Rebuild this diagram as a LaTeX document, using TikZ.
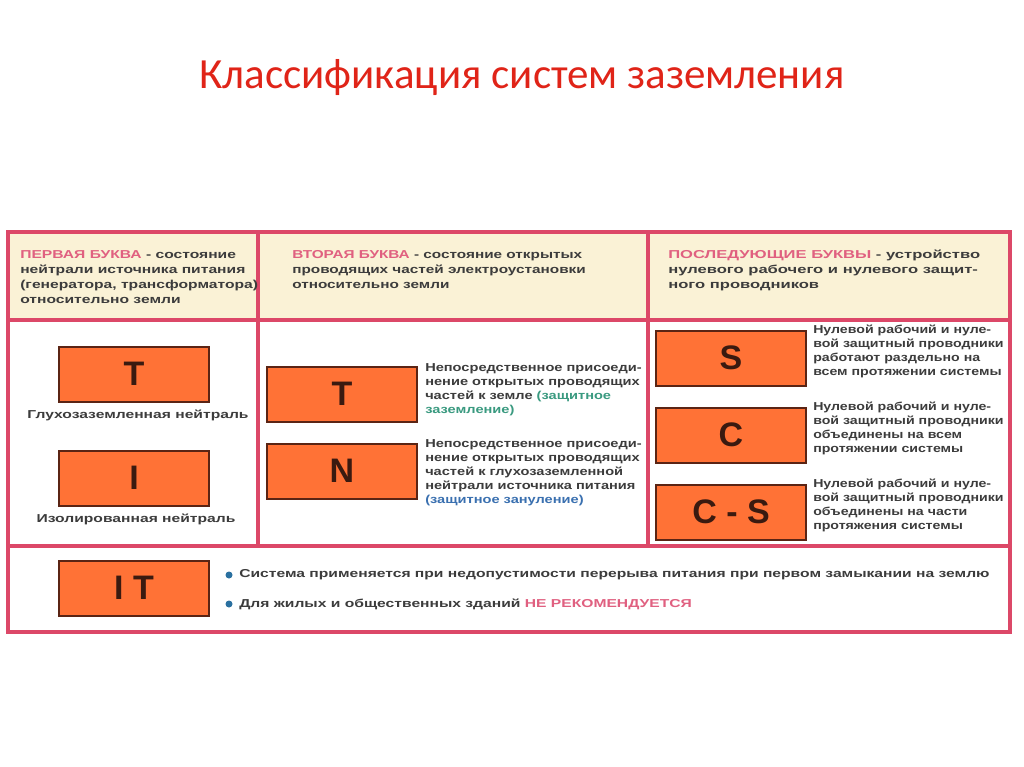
\documentclass[tikz,border=0pt]{standalone}
\usepackage{fontspec}
\setmainfont{Liberation Sans}
\newfontfamily\titlefont{Carlito}
\begin{document}
\begin{tikzpicture}[x=1pt,y=-1pt,
  frame/.style={draw=framec,line width=3.5pt},
  letterbox/.style={draw=boxborder,line width=2pt,fill=boxfill,minimum width=150pt,minimum height=55pt,inner sep=0pt,font=\fontsize{34}{36}\selectfont\bfseries,text=lettc},
  desc/.style={anchor=north west,align=left,inner sep=0pt,font=\fontsize{11.5}{14}\selectfont\bfseries,text=txtc,xscale=1.27,transform shape},
  hdr/.style={anchor=north west,align=left,inner sep=0pt,font=\fontsize{11.5}{15}\selectfont\bfseries,text=txtc,xscale=1.36,transform shape},
  captxt/.style={inner sep=0pt,font=\fontsize{11.5}{14}\selectfont\bfseries,text=txtc,xscale=1.36,transform shape}]
\definecolor{framec}{HTML}{DC4868}
\definecolor{cream}{HTML}{FAF2D6}
\definecolor{boxfill}{HTML}{FF7236}
\definecolor{boxborder}{HTML}{5A2414}
\definecolor{lettc}{HTML}{3A1A10}
\definecolor{txtc}{HTML}{3C3C3C}
\definecolor{pinkt}{HTML}{E06080}
\definecolor{greent}{HTML}{3A9A80}
\definecolor{bluet}{HTML}{3A70B0}
\definecolor{dotc}{HTML}{2A70A0}
\definecolor{titlec}{HTML}{E02418}
\useasboundingbox[fill=white] (0,0) rectangle (1024,767);
\node[font=\titlefont\fontsize{43}{46}\selectfont,text=titlec] (title) at (522,78) {Классификация систем заземления};
% header background
\fill[cream] (8,232) rectangle (1010,320);
\draw[frame] (8,232) rectangle (1010,632);
\draw[frame] (8,320) -- (1010,320);
\draw[frame] (8,546) -- (1010,546);
\draw[frame] (258,232) -- (258,546);
\draw[frame] (648,232) -- (648,546);
% headers
\node[hdr] (h1) at (20,250) {\textcolor{pinkt}{ПЕРВАЯ БУКВА} - состояние\\нейтрали источника питания\\(генератора, трансформатора)\\относительно земли};
\node[hdr,xscale=0.98] (h2) at (292,250) {\textcolor{pinkt}{ВТОРАЯ БУКВА} - состояние открытых\\проводящих частей электроустановки\\относительно земли};
\node[hdr,xscale=1.06] (h3) at (668,250) {\textcolor{pinkt}{ПОСЛЕДУЮЩИЕ БУКВЫ} - устройство\\нулевого рабочего и нулевого защит-\\ного проводников};
% column 1
\node[letterbox] (bT1) at (134,374) {T};
\node[captxt] (cT1) at (138,415) {Глухозаземленная нейтраль};
\node[letterbox] (bI) at (134,478) {I};
\node[captxt] (cI) at (136,519) {Изолированная нейтраль};
% column 2
\node[letterbox] (bT2) at (342,394) {T};
\node[desc] (dT2) at (425,363) {Непосредственное присоеди-\\нение открытых проводящих\\частей к земле \textcolor{greent}{(защитное}\\\textcolor{greent}{заземление)}};
\node[letterbox] (bN) at (342,471) {N};
\node[desc] (dN) at (425,439) {Непосредственное присоеди-\\нение открытых проводящих\\частей к глухозаземленной\\нейтрали источника питания\\\textcolor{bluet}{(защитное зануление)}};
% column 3
\node[letterbox] (bS) at (731,358) {S};
\node[desc,xscale=0.97] (dS) at (813,325) {Нулевой рабочий и нуле-\\вой защитный проводники\\работают раздельно на\\всем протяжении системы};
\node[letterbox] (bC) at (731,435) {C};
\node[desc,xscale=0.97] (dC) at (813,402) {Нулевой рабочий и нуле-\\вой защитный проводники\\объединены на всем\\протяжении системы};
\node[letterbox] (bCS) at (731,512) {C - S};
\node[desc,xscale=0.97] (dCS) at (813,479) {Нулевой рабочий и нуле-\\вой защитный проводники\\объединены на части\\протяжения системы};
% bottom row
\node[letterbox] (bIT) at (134,588) {I T};
\fill[dotc] (229,575) circle (3.5pt);
\fill[dotc] (229,604) circle (3.5pt);
\node[captxt,anchor=west] (l1) at (239,575) {Система применяется при недопустимости перерыва питания при первом замыкании на землю};
\node[captxt,anchor=west] (l2) at (239,604) {Для жилых и общественных зданий \textcolor{pinkt}{НЕ РЕКОМЕНДУЕТСЯ}};
\end{tikzpicture}
\end{document}
